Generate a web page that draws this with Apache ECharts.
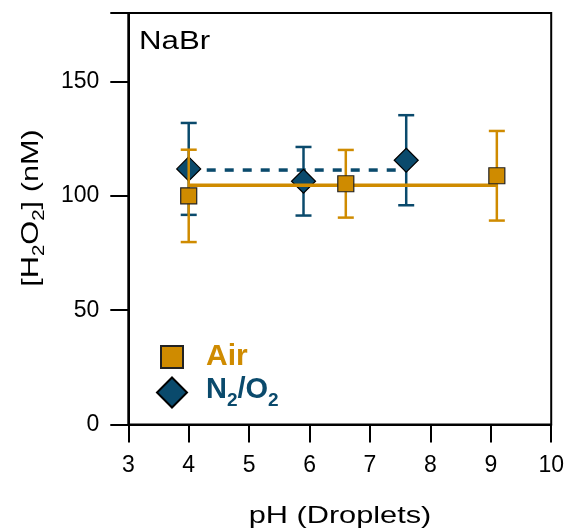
<!DOCTYPE html>
<html>
<head>
<meta charset="utf-8">
<script src="https://cdn.jsdelivr.net/npm/echarts@6/dist/echarts.min.js"></script>
<style>html,body{margin:0;padding:0;background:#fff}#c{width:567px;height:531px}</style>
</head>
<body>
<div id="c"></div>
<script>
// Data
var airPH = [4.0, 6.6, 9.1];
var airH2O2 = [100.0, 105.3, 108.8];
var airErr = [20.2, 14.8, 19.6];
var airMean = 104.7;
var n2PH = [4.0, 5.9, 7.6];
var n2H2O2 = [111.8, 106.4, 115.6];
var n2Err = [20.1, 15.0, 19.7];
var n2Mean = 111.3;
var xTicks = [3, 4, 5, 6, 7, 8, 9, 10];
var yTicks = [0, 50, 100, 150];

var AIR = '#CF8B00';
var N2 = '#0A4A6C';
var FONT = '"Liberation Sans", Arial, sans-serif';

function pts(xs, ys) { return xs.map(function (x, i) { return [x, ys[i]]; }); }
function errs(xs, ys, es) { return xs.map(function (x, i) { return [x, ys[i] - es[i], ys[i] + es[i]]; }); }

function errRender(color) {
  return function (params, api) {
    var x = api.value(0);
    var lo = api.coord([x, api.value(1)]);
    var hi = api.coord([x, api.value(2)]);
    var hw = 8;
    var st = { stroke: color, lineWidth: 2.5 };
    return {
      type: 'group',
      children: [
        { type: 'line', shape: { x1: lo[0], y1: lo[1], x2: hi[0], y2: hi[1] }, style: st },
        { type: 'line', shape: { x1: lo[0] - hw, y1: lo[1], x2: lo[0] + hw, y2: lo[1] }, style: st },
        { type: 'line', shape: { x1: hi[0] - hw, y1: hi[1], x2: hi[0] + hw, y2: hi[1] }, style: st }
      ]
    };
  };
}

var chart = echarts.init(document.getElementById('c'), null, { renderer: 'canvas' });
chart.setOption({
  animation: false,
  textStyle: { fontFamily: FONT },
  grid: {
    left: 128.3, right: 14.7, top: 13, bottom: 106.5,
    show: true, borderColor: '#000', borderWidth: 2, backgroundColor: 'transparent'
  },
  graphic: [
    {
      type: 'text', x: 139, y: 42, scaleX: 1.2, z: 100,
      style: { text: 'NaBr', font: '26px "Liberation Sans", Arial, sans-serif', fill: '#000', align: 'left', verticalAlign: 'middle' }
    },
    {
      type: 'text', x: 340, y: 516, scaleX: 1.28, z: 100,
      style: { text: 'pH (Droplets)', font: '24px "Liberation Sans", Arial, sans-serif', fill: '#000', align: 'center', verticalAlign: 'middle' }
    },
    {
      type: 'text', x: 31, y: 208, scaleX: 1.28, rotation: Math.PI / 2, z: 100,
      style: {
        text: '{a|[H}{s|2}{a|O}{s|2}{a|] (nM)}', align: 'center', verticalAlign: 'middle',
        rich: {
          a: { fontFamily: FONT, fontSize: 24, fill: '#000', lineHeight: 33 },
          s: { fontFamily: FONT, fontSize: 16, fill: '#000', verticalAlign: 'bottom' }
        }
      }
    }
  ],
  legend: [
    {
      data: ['Air'], orient: 'vertical', left: 160, top: 342, padding: 0,
      itemWidth: 22, itemHeight: 22,
      textStyle: { fontFamily: FONT, fontSize: 30, fontWeight: 'bold', color: AIR, padding: [0, 0, 6, 18] }
    },
    {
      data: ['N2/O2'], orient: 'vertical', left: 156, top: 375, padding: 0,
      itemWidth: 30, itemHeight: 30,
      formatter: function () { return '{b|N}{s|2}{b|/O}{s|2}'; },
      textStyle: {
        color: N2, padding: [0, 0, 6, 14],
        rich: {
          b: { fontFamily: FONT, fontSize: 29, fontWeight: 'bold', color: N2, lineHeight: 42 },
          s: { fontFamily: FONT, fontSize: 19, fontWeight: 'bold', color: N2, verticalAlign: 'bottom' }
        }
      }
    }
  ],
  xAxis: {
    type: 'value', min: 3, max: 10, interval: 1,
    axisLine: { show: true, lineStyle: { color: '#000', width: 2 } },
    axisTick: { show: true, inside: false, length: 18, lineStyle: { color: '#000', width: 2 } },
    axisLabel: { fontFamily: FONT, fontSize: 23, color: '#000', margin: 30,
      formatter: function (v) { return xTicks.indexOf(v) >= 0 ? String(v) : ''; } },
    splitLine: { show: false }
  },
  yAxis: {
    type: 'value', min: 0, max: 180, interval: 50,
    axisLine: { show: true, lineStyle: { color: '#000', width: 2 } },
    axisTick: { show: true, inside: false, length: 18, lineStyle: { color: '#000', width: 2 } },
    axisLabel: { fontFamily: FONT, fontSize: 23, color: '#000', margin: 29,
      formatter: function (v) { return yTicks.indexOf(v) >= 0 ? String(v) : ''; } },
    splitLine: { show: false }
  },
  series: [
    {
      name: 'N2/O2 err', type: 'custom', renderItem: errRender(N2),
      data: errs(n2PH, n2H2O2, n2Err), z: 2, encode: { x: 0, y: [1, 2] }, silent: true
    },
    {
      name: 'N2/O2 mean', type: 'line', data: [[n2PH[0], n2Mean], [n2PH[n2PH.length - 1], n2Mean]],
      symbol: 'none', lineStyle: { color: N2, width: 3.5, type: [9, 9] }, z: 3, silent: true
    },
    {
      name: 'N2/O2', type: 'scatter', data: pts(n2PH, n2H2O2), symbol: 'diamond', symbolSize: 24,
      itemStyle: { color: N2, borderColor: '#000', borderWidth: 1.2, opacity: 1 }, z: 4
    },
    {
      name: 'Air err', type: 'custom', renderItem: errRender(AIR),
      data: errs(airPH, airH2O2, airErr), z: 5, encode: { x: 0, y: [1, 2] }, silent: true
    },
    {
      name: 'Air mean', type: 'line', data: [[airPH[0], airMean], [airPH[airPH.length - 1], airMean]],
      symbol: 'none', lineStyle: { color: AIR, width: 3.5 }, z: 6, silent: true
    },
    {
      name: 'Air', type: 'scatter', data: pts(airPH, airH2O2), symbol: 'rect', symbolSize: 16,
      itemStyle: { color: AIR, borderColor: '#222', borderWidth: 1.2, opacity: 1 }, z: 7
    }
  ]
});
</script>
</body>
</html>
